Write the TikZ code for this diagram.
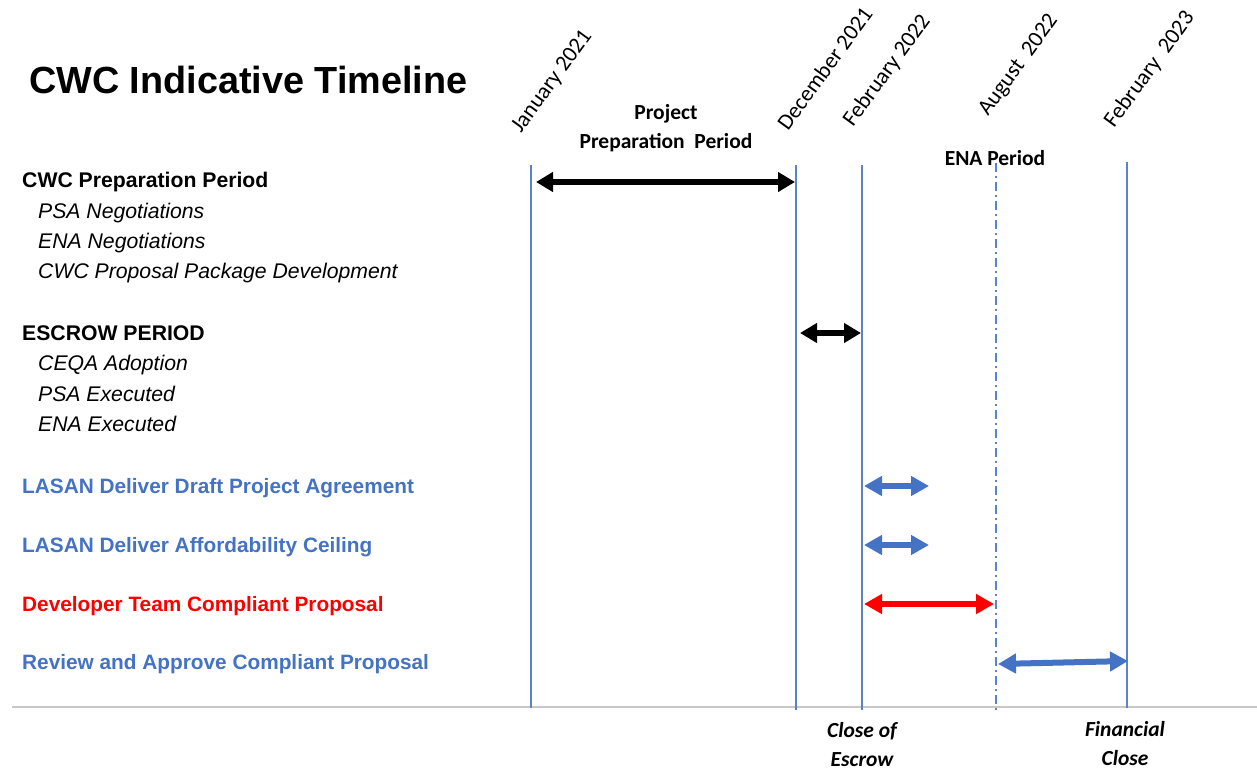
\documentclass[tikz,border=0pt]{standalone}
\usepackage{fontspec}
\setmainfont{Liberation Sans}
\newfontfamily\calib{Carlito}
\usetikzlibrary{arrows.meta}
\definecolor{cblue}{HTML}{4472C4}
\definecolor{lblue}{HTML}{5B83CC}
\definecolor{cred}{HTML}{FF0000}
\definecolor{cgray}{HTML}{C8C8C8}
\tikzset{
  lefthead/.style={anchor=base west, inner sep=0pt, font=\fontsize{21.2}{24}\selectfont\bfseries},
  colhead/.style={anchor=base west, inner sep=0pt, font=\fontsize{20.8}{24}\selectfont\bfseries},
  leftitem/.style={anchor=base west, inner sep=0pt, font=\fontsize{21.2}{24}\selectfont\itshape},
  datelbl/.style={anchor=base west, inner sep=0pt, rotate=54, font=\calib\fontsize{22.5}{26}\selectfont},
  periodlbl/.style={inner sep=0pt, align=center, font=\calib\fontsize{21.5}{29}\selectfont\bfseries},
  closelbl/.style={inner sep=0pt, align=center, font=\calib\fontsize{21.5}{29}\selectfont\bfseries\itshape},
  vline/.style={draw=lblue, line width=2.8pt},
  dline/.style={draw=lblue, line width=2pt, dash pattern=on 9pt off 4pt on 2pt off 4pt},
  bigarrow/.style={line width=6pt, {Triangle[length=18pt,width=19pt]}-{Triangle[length=18pt,width=19pt]}},
  blackarrow/.style={line width=5.5pt, black, {Triangle[length=17pt,width=19pt]}-{Triangle[length=17pt,width=19pt]}},
}
\begin{document}
\begin{tikzpicture}[x=1pt,y=-1pt]
\useasboundingbox (0,0) rectangle (1257,771);
% title
\node[anchor=base west, inner sep=0pt, font=\fontsize{37.8}{40}\selectfont\bfseries] (title) at (29,93) {CWC Indicative Timeline};
% left labels
\node[lefthead] (h1) at (22,187.5) {CWC Preparation Period};
\node[leftitem] (i1) at (38,218.5) {PSA Negotiations};
\node[leftitem] (i2) at (38,248.5) {ENA Negotiations};
\node[leftitem] (i3) at (38,278.5) {CWC Proposal Package Development};
\node[lefthead] (h2) at (22,340.5) {ESCROW PERIOD};
\node[leftitem] (i4) at (38,370.5) {CEQA Adoption};
\node[leftitem] (i5) at (38,401.5) {PSA Executed};
\node[leftitem] (i6) at (38,431.5) {ENA Executed};
\node[colhead, text=cblue] (t1) at (22,493.5) {LASAN Deliver Draft Project Agreement};
\node[colhead, text=cblue] (t2) at (22,552.5) {LASAN Deliver Affordability Ceiling};
\node[colhead, text=cred] (t3) at (22,611.5) {Developer Team Compliant Proposal};
\node[colhead, text=cblue] (t4) at (22,669.5) {Review and Approve Compliant Proposal};
% baseline
\coordinate (bl) at (12,707);
\coordinate (br) at (1257,707);
\draw[cgray, line width=1.2pt] (bl) -- (br);
% vertical lines
\coordinate (v1t) at (531,165); \coordinate (v1b) at (531,708);
\coordinate (v2t) at (796,165); \coordinate (v2b) at (796,710);
\coordinate (v3t) at (862,165); \coordinate (v3b) at (862,710);
\coordinate (v4t) at (996,163); \coordinate (v4b) at (996,710);
\coordinate (v5t) at (1127,162); \coordinate (v5b) at (1127,708);
\draw[vline] (v1t) -- (v1b);
\draw[vline] (v2t) -- (v2b);
\draw[vline] (v3t) -- (v3b);
\draw[dline] (v4t) -- (v4b);
\draw[vline] (v5t) -- (v5b);
% date labels
\node[datelbl] (d1) at (521,134) {January 2021};
\node[datelbl] (d2) at (788,132) {December 2021};
\node[datelbl] (d3) at (853,128) {February 2022};
\node[datelbl] (d4) at (988,117) {August\ \ 2022};
\node[datelbl] (d5) at (1114,129) {February\ \ 2023};
% period labels
\node[periodlbl] (pp) at (666,128) {Project\\Preparation\ \ Period};
\node[periodlbl] (ena) at (995,158) {ENA Period};
% bottom labels
\node[closelbl] (ce) at (862,745) {Close of\\Escrow};
\node[closelbl] (fc) at (1125,744) {Financial\\Close};
% arrows
\coordinate (a1s) at (536,182); \coordinate (a1e) at (795,182);
\coordinate (a2s) at (800,333); \coordinate (a2e) at (861,333);
\coordinate (a3s) at (864,486); \coordinate (a3e) at (929,486);
\coordinate (a4s) at (864,545); \coordinate (a4e) at (929,545);
\coordinate (a5s) at (864,604); \coordinate (a5e) at (994,604);
\coordinate (a6s) at (998,664); \coordinate (a6e) at (1128,661);
\draw[blackarrow] (a1s) -- (a1e);
\draw[blackarrow] (a2s) -- (a2e);
\draw[bigarrow, cblue] (a3s) -- (a3e);
\draw[bigarrow, cblue] (a4s) -- (a4e);
\draw[bigarrow, cred] (a5s) -- (a5e);
\draw[bigarrow, cblue] (a6s) -- (a6e);
\end{tikzpicture}
\end{document}
